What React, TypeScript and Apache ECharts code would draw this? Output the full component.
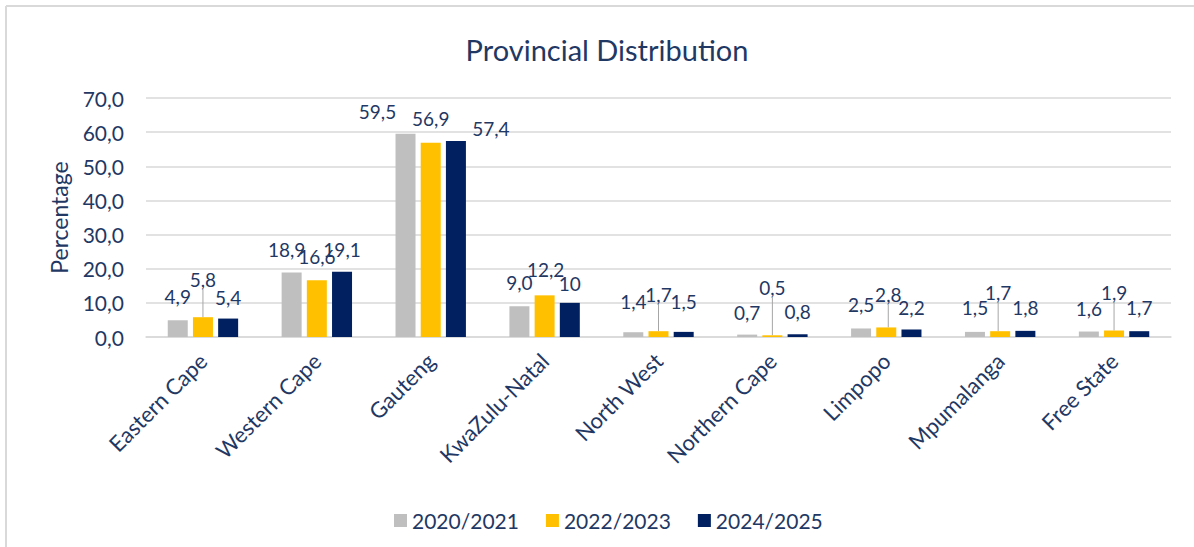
import React, { useEffect, useRef } from "react";
import * as echarts from "echarts";

const CATEGORIES = [
  "Eastern Cape",
  "Western Cape",
  "Gauteng",
  "KwaZulu-Natal",
  "North West",
  "Northern Cape",
  "Limpopo",
  "Mpumalanga",
  "Free State",
];
const SERIES_NAMES = ["2020/2021", "2022/2023", "2024/2025"];
const VALUES_2020 = [4.9, 18.9, 59.5, 9.0, 1.4, 0.7, 2.5, 1.5, 1.6];
const VALUES_2022 = [5.8, 16.6, 56.9, 12.2, 1.7, 0.5, 2.8, 1.7, 1.9];
const VALUES_2024 = [5.4, 19.1, 57.4, 10, 1.5, 0.8, 2.2, 1.8, 1.7];
const LABEL_OVERRIDE_2024: Record<number, string> = { 3: "10" };
const Y_MIN = 0;
const Y_MAX = 70;
const Y_STEP = 10;

// label nudges (layout only)
const SHIFT_2020 = [[0, -1], [-5, 0], [-28, 0], [0, -1], [0, -8], [0, 0], [0, -1], [0, -2], [0, -1]];
const SHIFT_2022 = [[0, -15], [0, -1], [0, -2], [1, -3], [0, -14], [0, -25], [2, -10], [-2, -16], [0, -16]];
const SHIFT_2024 = [[0, 1], [0, 0], [35, 10], [0, 3], [0, -8], [0, 0], [0, 1], [0, -1], [0, -1]];
const LEADER_2022 = [true, false, false, false, true, true, true, true, true];

const NAVY_TEXT = "#1F3864";
const FONT = "Lato";
const COLORS = ["#BFBFBF", "#FFC000", "#002060"];

const fmt = (v: number) => v.toFixed(1).replace(".", ",");

export default function App() {
  const ref = useRef<HTMLDivElement>(null);
  useEffect(() => {
    if (!ref.current) return;
    const chart = echarts.init(ref.current, undefined, { renderer: "svg" });
    const makeSeries = (
      name: string,
      values: number[],
      color: string,
      shift: number[][],
      leaders: boolean[] | null,
      override: Record<number, string>
    ) => ({
      name,
      type: "bar",
      barWidth: 20,
      barGap: "26%",
      itemStyle: { color },
      data: values.map((v, i) => ({
        value: v,
        labelLine: { show: leaders ? leaders[i] : false },
      })),
      label: {
        show: true,
        position: "top",
        distance: 13,
        fontFamily: FONT,
        fontSize: 19,
        color: NAVY_TEXT,
        formatter: (p: any) =>
          override[p.dataIndex] !== undefined ? override[p.dataIndex] : fmt(p.value),
      },
      labelLine: { show: false, lineStyle: { color: "#A6A6A6", width: 1 } },
      labelLayout: (p: any) => ({
        dx: shift[p.dataIndex][0],
        dy: shift[p.dataIndex][1],
      }),
    });
    chart.setOption({
      animation: false,
      backgroundColor: "#FFFFFF",
      textStyle: { fontFamily: FONT },
      title: {
        text: "Provincial Distribution",
        left: 602,
        top: 30,
        textAlign: "center",
        textStyle: { fontFamily: FONT, fontSize: 29, fontWeight: "normal", color: NAVY_TEXT },
      },
      legend: {
        data: SERIES_NAMES,
        left: 389,
        top: 505,
        icon: "rect",
        itemWidth: 13,
        itemHeight: 13,
        itemGap: 27,
        textStyle: { fontFamily: FONT, fontSize: 21, color: NAVY_TEXT },
      },
      grid: { left: 146, right: 23, top: 98, bottom: 210 },
      xAxis: {
        type: "category",
        data: CATEGORIES,
        axisTick: { show: false },
        axisLine: { lineStyle: { color: "#D9D9D9", width: 1.5 } },
        axisLabel: {
          interval: 0,
          rotate: 45,
          margin: 20,
          fontFamily: FONT,
          fontSize: 22,
          color: NAVY_TEXT,
        },
      },
      yAxis: {
        type: "value",
        min: Y_MIN,
        max: Y_MAX,
        interval: Y_STEP,
        name: "Percentage",
        nameLocation: "middle",
        nameGap: 76,
        nameTextStyle: { fontFamily: FONT, fontSize: 23, color: NAVY_TEXT },
        axisLine: { show: false },
        axisTick: { show: false },
        axisLabel: {
          margin: 22,
          fontFamily: FONT,
          fontSize: 21,
          color: NAVY_TEXT,
          formatter: (v: number) => fmt(v),
        },
        splitLine: { lineStyle: { color: "#D9D9D9", width: 1.5 } },
      },
      graphic: [
        { type: "line", shape: { x1: 6, y1: 6, x2: 1194, y2: 6 }, style: { stroke: "#D9D9D9", lineWidth: 2 } },
        { type: "line", shape: { x1: 6, y1: 6, x2: 6, y2: 547 }, style: { stroke: "#D9D9D9", lineWidth: 2 } },
      ],
      series: [
        makeSeries(SERIES_NAMES[0], VALUES_2020, COLORS[0], SHIFT_2020, null, {}),
        makeSeries(SERIES_NAMES[1], VALUES_2022, COLORS[1], SHIFT_2022, LEADER_2022, {}),
        makeSeries(SERIES_NAMES[2], VALUES_2024, COLORS[2], SHIFT_2024, null, LABEL_OVERRIDE_2024),
      ],
    });
    return () => chart.dispose();
  }, []);
  return (
    <div
      ref={ref}
      style={{ position: "fixed", left: 0, top: 0, width: 1194, height: 547, background: "#fff" }}
    />
  );
}
